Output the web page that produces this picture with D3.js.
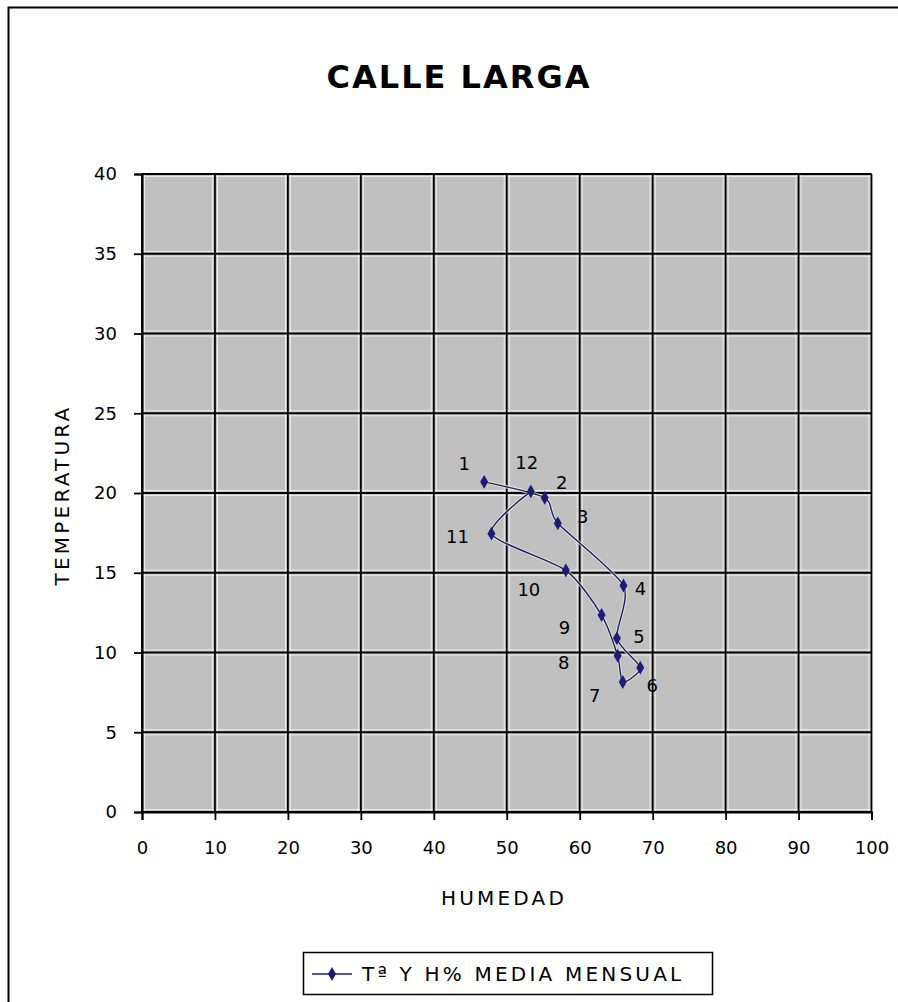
<!DOCTYPE html>
<html><head><meta charset="utf-8">
<script src="https://cdn.jsdelivr.net/npm/d3@7/dist/d3.min.js"></script>
<style>html,body{margin:0;padding:0;background:#fff;}</style>
</head><body>
<svg id="c" width="898" height="1002"></svg>
<script>
const months = ["1","2","3","4","5","6","7","8","9","10","11","12"];
const humedad = [46.9, 55.2, 57.0, 66.0, 65.1, 68.3, 65.9, 65.2, 63.0, 58.1, 47.9, 53.3];
const temperatura = [20.7, 19.7, 18.1, 14.2, 10.9, 9.05, 8.15, 9.8, 12.35, 15.15, 17.45, 20.1];
const xTicks = [0,10,20,30,40,50,60,70,80,90,100];
const yTicks = [0,5,10,15,20,25,30,35,40];
const title = "CALLE LARGA";
const xTitle = "HUMEDAD";
const yTitle = "TEMPERATURA";
const legendText = "Tª Y H% MEDIA MENSUAL";
// label pixel offsets (style)
const labelOff = [[-20,-18],[17,-15],[25,-7],[17,3],[22,-2],[12,18],[-28,13],[-54,7],[-37,12],[-37,19],[-34,3],[-4,-29]];

const svg = d3.select("#c");
const W=898,H=1002;
svg.append("rect").attr("x",8.5).attr("y",7.5).attr("width",W+10).attr("height",H+10)
  .attr("fill","#fff").attr("stroke","#000").attr("stroke-width",2);

const L=142,R=871.5,T=174,B=812;
const x=d3.scaleLinear().domain([0,100]).range([L,R]);
const y=d3.scaleLinear().domain([0,40]).range([B,T]);

svg.append("rect").attr("x",L).attr("y",T).attr("width",R-L).attr("height",B-T).attr("fill","#c0c0c0");

// white highlight lines
const hl=svg.append("g").attr("stroke","#ececec").attr("stroke-width",1);
xTicks.forEach(t=>{ [ -2.5, 2.5].forEach(o=>{ const px=x(t)+o; if(px>L&&px<R) hl.append("line").attr("x1",px).attr("x2",px).attr("y1",T).attr("y2",B);});});
yTicks.forEach(t=>{ [ -2.5, 2.5].forEach(o=>{ const py=y(t)+o; if(py>T&&py<B) hl.append("line").attr("y1",py).attr("y2",py).attr("x1",L).attr("x2",R);});});

// gridlines
const g=svg.append("g").attr("stroke","#000").attr("stroke-width",1.8);
xTicks.forEach(t=>g.append("line").attr("x1",x(t)).attr("x2",x(t)).attr("y1",T).attr("y2",B));
yTicks.forEach(t=>g.append("line").attr("y1",y(t)).attr("y2",y(t)).attr("x1",L).attr("x2",R));

// axes
const xa=svg.append("g").attr("transform",`translate(0,${B})`)
  .call(d3.axisBottom(x).tickValues(xTicks).tickSize(8).tickPadding(30).tickFormat(d3.format("d")));
const ya=svg.append("g").attr("transform",`translate(${L},0)`)
  .call(d3.axisLeft(y).tickValues(yTicks).tickSize(8).tickPadding(17).tickFormat(d3.format("d")));
[xa,ya].forEach(a=>{
  a.select(".domain").attr("stroke","#000").attr("stroke-width",2);
  a.selectAll(".tick line").attr("stroke","#000").attr("stroke-width",1.8);
  a.selectAll("text").attr("font-family","DejaVu Sans").attr("font-size",18).attr("fill","#000");
});
xa.selectAll("text").attr("dy","0.2em");

// title
svg.append("text").attr("x",459).attr("y",88).attr("text-anchor","middle")
  .attr("font-family","DejaVu Sans").attr("font-weight","bold").attr("font-size",32)
  .attr("letter-spacing",2).text(title);
svg.append("text").attr("x",504).attr("y",905).attr("text-anchor","middle")
  .attr("font-family","DejaVu Sans").attr("font-size",20).attr("letter-spacing",3.2).text(xTitle);
svg.append("text").attr("transform","translate(69,495) rotate(-90)").attr("text-anchor","middle")
  .attr("font-family","DejaVu Sans").attr("font-size",20).attr("letter-spacing",3.2).text(yTitle);

// series
const color="#1c1c78";
const pts=months.map((m,i)=>({m,h:humedad[i],t:temperatura[i],o:labelOff[i]}));
const line=d3.line().x(d=>x(d.h)).y(d=>y(d.t)).curve(d3.curveCardinal.tension(0.3));
svg.append("path").datum(pts).attr("fill","none").attr("stroke","#f4f0c8").attr("stroke-width",3.5).attr("opacity",0.7).attr("d",line);
svg.append("path").datum(pts).attr("fill","none").attr("stroke",color).attr("stroke-width",1.4).attr("d",line);
svg.selectAll(".pt").data(pts).enter().append("path")
  .attr("d",d3.symbol().type(d3.symbolDiamond).size(55))
  .attr("transform",d=>`translate(${x(d.h)},${y(d.t)})`).attr("fill",color);
svg.selectAll(".lb").data(pts).enter().append("text")
  .attr("x",d=>x(d.h)+d.o[0]).attr("y",d=>y(d.t)+d.o[1]).attr("text-anchor","middle")
  .attr("dominant-baseline","central")
  .attr("font-family","DejaVu Sans").attr("font-size",18).text(d=>d.m);

// legend
svg.append("rect").attr("x",303.5).attr("y",952.5).attr("width",409).attr("height",42)
  .attr("fill","#fff").attr("stroke","#000").attr("stroke-width",1.5);
svg.append("line").attr("x1",312).attr("x2",352).attr("y1",974).attr("y2",974).attr("stroke",color).attr("stroke-width",1.5);
svg.append("path").attr("d",d3.symbol().type(d3.symbolDiamond).size(55)).attr("transform","translate(332,974)").attr("fill",color);
svg.append("text").attr("x",362).attr("y",981).attr("font-family","DejaVu Sans").attr("font-size",20)
  .attr("letter-spacing",3.2).text(legendText);
</script>
</body></html>
